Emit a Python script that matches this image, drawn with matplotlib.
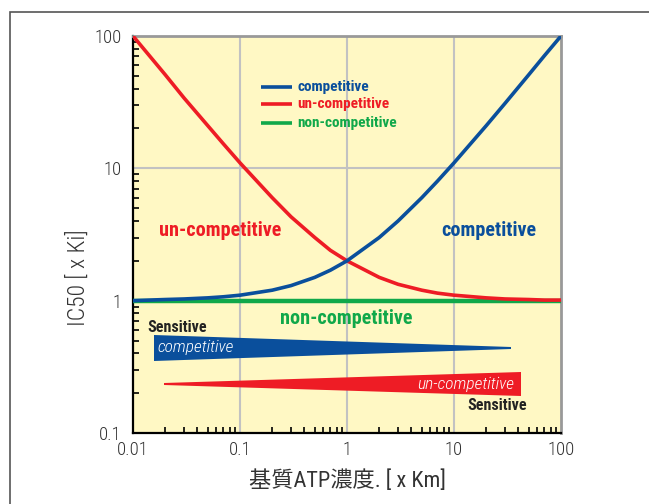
import matplotlib
matplotlib.use("Agg")
import matplotlib.pyplot as plt
from matplotlib.patches import Polygon, Rectangle
from matplotlib.ticker import LogLocator, NullFormatter, FixedLocator, FixedFormatter

# Substrate ATP concentration (x Km)
atp_conc = [0.01, 0.02, 0.03, 0.05, 0.07, 0.1, 0.2, 0.3, 0.5, 0.7, 1,
            2, 3, 5, 7, 10, 20, 30, 50, 70, 100]
# IC50 (x Ki) for each inhibition mode
ic50_competitive = [1.0, 1.02, 1.03, 1.05, 1.07, 1.1, 1.2, 1.3, 1.5, 1.7, 2.0,
                    3.0, 4.0, 6.0, 8.0, 11.0, 21.0, 31.0, 51.0, 71.0, 100.0]
ic50_uncompetitive = [100.0, 51.0, 34.0, 21.0, 15.3, 11.0, 6.0, 4.3, 3.0, 2.4, 2.0,
                      1.5, 1.33, 1.2, 1.14, 1.1, 1.05, 1.03, 1.02, 1.01, 1.01]
ic50_noncompetitive = [1.0] * len(atp_conc)

x_ticks = [0.01, 0.1, 1, 10, 100]
x_ticklabels = ["0.01", "0.1", "1", "10", "100"]
y_ticks = [0.1, 1, 10, 100]
y_ticklabels = ["0.1", "1", "10", "100"]

BLUE = "#0A4F9C"
RED = "#EE1C25"
GREEN = "#10A84A"
BG = "#FFF8C4"

COND = ["Roboto Condensed", "DejaVu Sans"]
plt.rcParams["font.family"] = ["Roboto Condensed", "Noto Sans CJK JP", "DejaVu Sans"]

fig = plt.figure(figsize=(6.49, 5.04), dpi=100)
fig.patch.set_facecolor("white")

# outer frame
fig.patches.append(Rectangle((10 / 649, -0.1), 1.2, 1 - 12 / 504 + 0.1,
                             transform=fig.transFigure, fill=False,
                             edgecolor="#555555", linewidth=1.2))

ax = fig.add_axes([133 / 649, (504 - 433) / 504, 428 / 649, 397 / 504])
ax.set_facecolor(BG)
ax.set_xscale("log")
ax.set_yscale("log")
ax.set_xlim(0.01, 100)
ax.set_ylim(0.1, 100)

# decade grid
for v in [0.1, 1, 10]:
    ax.axvline(v, color="#C2C2C2", lw=1.5, zorder=1)
ax.axhline(10, color="#C2C2C2", lw=1.5, zorder=1)

ax.plot(atp_conc, ic50_noncompetitive, color=GREEN, lw=3.2, zorder=3,
        solid_capstyle="butt")
ax.plot(atp_conc, ic50_uncompetitive, color=RED, lw=2.6, zorder=4)
ax.plot(atp_conc, ic50_competitive, color=BLUE, lw=2.6, zorder=5)

# spines
for s in ["left", "bottom"]:
    ax.spines[s].set_color("black")
    ax.spines[s].set_linewidth(1.6)
for s in ["top", "right"]:
    ax.spines[s].set_color("#999999")
    ax.spines[s].set_linewidth(2)

ax.xaxis.set_major_locator(FixedLocator(x_ticks))
ax.xaxis.set_major_formatter(FixedFormatter(x_ticklabels))
ax.yaxis.set_major_locator(FixedLocator(y_ticks))
ax.yaxis.set_major_formatter(FixedFormatter(y_ticklabels))
ax.xaxis.set_minor_locator(LogLocator(base=10, subs=range(2, 10)))
ax.yaxis.set_minor_locator(LogLocator(base=10, subs=range(2, 10)))
ax.xaxis.set_minor_formatter(NullFormatter())
ax.yaxis.set_minor_formatter(NullFormatter())
ax.tick_params(which="major", length=0, labelsize=13.5, colors="#333333")
ax.tick_params(axis="x", which="major", pad=6)
ax.tick_params(axis="y", which="major", pad=8)
ax.tick_params(which="minor", direction="in", length=4, width=1.2,
               color="black", top=False, right=False)
for t in ax.get_xticklabels() + ax.get_yticklabels():
    t.set_fontweight("light")

ax.set_ylabel("IC50 [ x Ki]", fontsize=17, color="#333333", fontweight="light")
ax.yaxis.set_label_coords(-0.1, 0.39)
ax.set_xlabel("基質ATP濃度. [ x Km]", fontsize=16, color="#333333", labelpad=8)

def ax_pt(px, py):
    return ((px - 133) / 428, (433 - py) / 397)

# legend
leg_items = [("competitive", BLUE, 87), ("un-competitive", RED, 104),
             ("non-competitive", GREEN, 123)]
for label, col, py in leg_items:
    x0, y0 = ax_pt(261, py)
    x1, _ = ax_pt(292, py)
    ax.plot([x0, x1], [y0, y0], transform=ax.transAxes, color=col, lw=2.6,
            solid_capstyle="butt", zorder=6)
    tx, _ = ax_pt(297, py)
    ax.text(tx, y0, label, transform=ax.transAxes, color=col, fontsize=11,
            fontweight="bold", family=COND, va="center", ha="left", zorder=6)

# region labels
def label(px, py, text, col, size, **kw):
    x, y = ax_pt(px, py)
    ax.text(x, y, text, transform=ax.transAxes, color=col, fontsize=size,
            family=COND, va="center", zorder=7, **kw)

label(220, 230, "un-competitive", RED, 14.5, ha="center", fontweight="bold")
label(489, 230, "competitive", BLUE, 14.5, ha="center", fontweight="bold")
label(346, 318, "non-competitive", GREEN, 14.5, ha="center", fontweight="bold")
label(177, 327, "Sensitive", "#222222", 11.5, ha="center", fontweight="bold")
label(497, 406, "Sensitive", "#222222", 11.5, ha="center", fontweight="bold")

# sensitivity wedges
blue_wedge = [ax_pt(154, 335), ax_pt(511, 347), ax_pt(511, 349), ax_pt(154, 361)]
red_wedge = [ax_pt(164, 383), ax_pt(521, 372), ax_pt(521, 396), ax_pt(164, 385)]
ax.add_patch(Polygon(blue_wedge, closed=True, transform=ax.transAxes,
                     facecolor=BLUE, edgecolor="none", zorder=6))
ax.add_patch(Polygon(red_wedge, closed=True, transform=ax.transAxes,
                     facecolor=RED, edgecolor="none", zorder=6))
label(196, 347, "competitive", "white", 12.5, ha="center", style="italic",
      fontweight="light")
label(466, 384, "un-competitive", "white", 12.5, ha="center", style="italic",
      fontweight="light")

fig.savefig("out.png", dpi=100)
